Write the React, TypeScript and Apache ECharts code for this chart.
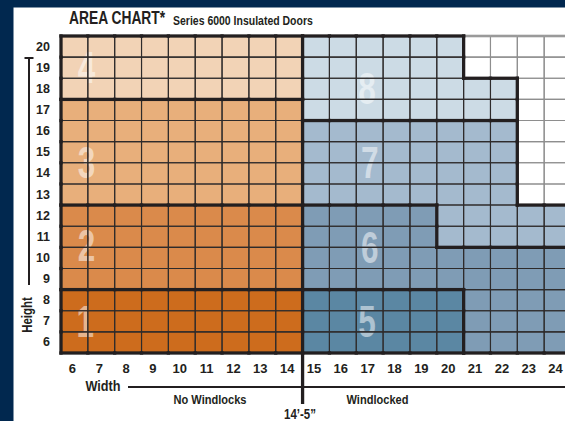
import React, { useEffect, useRef } from "react";
import * as echarts from "echarts";

// ---- data ----
const widthLabels = [6, 7, 8, 9, 10, 11, 12, 13, 14, 15, 16, 17, 18, 19, 20, 21, 22, 23, 24];
const heightLabels = [6, 7, 8, 9, 10, 11, 12, 13, 14, 15, 16, 17, 18, 19, 20];
// zone per cell, one string per height row from 20 (top) down to 6; one char per width 6..24 (0 = none)
const zoneRows = [
  "4444444448888880000", // 20
  "4444444448888880000", // 19
  "4444444448888888800", // 18
  "3333333338888888800", // 17
  "3333333337777777700", // 16
  "3333333337777777700", // 15
  "3333333337777777700", // 14
  "3333333337777777700", // 13
  "2222222226666677777", // 12
  "2222222226666677777", // 11
  "2222222226666666666", // 10
  "2222222226666666666", // 9
  "1111111115555556666", // 8
  "1111111115555556666", // 7
  "1111111115555556666", // 6
];
const zoneColors: Record<number, string> = {
  0: "#FFFFFF",
  1: "#CD6C1D",
  2: "#DA8A4B",
  3: "#E8AF7B",
  4: "#F2D3B6",
  5: "#5B87A3",
  6: "#7F9CB5",
  7: "#A4BACE",
  8: "#CCDBE5",
};
// zone number label positions [zone, width, height]
const zoneLabels = [
  [1, 6.4, 7.0],
  [2, 6.45, 10.6],
  [3, 6.45, 14.5],
  [4, 6.45, 19.0],
  [5, 16.9, 7.0],
  [6, 17.0, 10.5],
  [7, 17.0, 14.5],
  [8, 16.9, 18.0],
];
const titleMain = "AREA CHART*";
const titleSub = "Series 6000 Insulated Doors";
const leftGroup = "No Windlocks";
const rightGroup = "Windlocked";
const dividerLabel = "14\u2019-5\u201D";

const FONT = "'Liberation Sans', Arial, sans-serif";
const INK = "#231F20";
const NARROW = 0.82;

export default function App() {
  const ref = useRef<HTMLDivElement>(null);
  useEffect(() => {
    if (!ref.current) return;
    const chart = echarts.init(ref.current, null, { renderer: "svg" });

    const zoneAt = (w: number, h: number): number | null => {
      const r = 20 - h;
      const c = w - 6;
      if (r < 0 || r >= zoneRows.length || c < 0 || c >= widthLabels.length) return null;
      return Number(zoneRows[r][c]);
    };

    const cells: number[][] = [];
    heightLabels.forEach((h) => widthLabels.forEach((w) => cells.push([w, h, zoneAt(w, h) as number])));

    // boundary edges [x1,y1,x2,y2,kind] kind 1 = black, 2 = grey
    const edges: number[][] = [];
    cells.forEach(([w, h, z]) => {
      const right = zoneAt(w + 1, h);
      if (right !== null && right !== z && (right || z)) edges.push([w + 0.5, h - 0.5, w + 0.5, h + 0.5, 1]);
      const top = zoneAt(w, h + 1);
      if (top === null) edges.push([w - 0.5, h + 0.5, w + 0.5, h + 0.5, z ? 1 : 2]);
      else if (top !== z && (top || z)) edges.push([w - 0.5, h + 0.5, w + 0.5, h + 0.5, 1]);
      if (zoneAt(w - 1, h) === null) edges.push([w - 0.5, h - 0.5, w - 0.5, h + 0.5, 1]);
      if (zoneAt(w, h - 1) === null) edges.push([w - 0.5, h - 0.5, w + 0.5, h - 0.5, 1]);
    });
    edges.sort((a, b) => b[4] - a[4]);

    const rectOf = (api: any, w: number, h: number) => {
      const p1 = api.coord([w - 0.5, h + 0.5]);
      const p2 = api.coord([w + 0.5, h - 0.5]);
      return { x: p1[0], y: p1[1], width: p2[0] - p1[0], height: p2[1] - p1[1] };
    };

    const txt = (text: string, x: number, y: number, size: number, extra: any = {}) => ({
      type: "text",
      x,
      y,
      scaleX: NARROW,
      ...extra,
      style: {
        text,
        fontFamily: FONT,
        fontWeight: "bold",
        fontSize: size,
        fill: INK,
        align: extra.align || "center",
        verticalAlign: "middle",
      },
    });

    chart.setOption({
      animation: false,
      backgroundColor: "#FFFFFF",
      grid: { left: 61, top: 36, right: 0, bottom: 68 },
      xAxis: {
        type: "value",
        min: 5.5,
        max: 24.5,
        axisLine: { show: false },
        axisTick: { show: false },
        splitLine: { show: false },
        axisLabel: {
          customValues: widthLabels,
          fontFamily: FONT,
          fontWeight: "bold",
          fontSize: 13,
          color: INK,
          margin: 9,
          padding: [0, 4, 0, 0],
        },
      },
      yAxis: {
        type: "value",
        min: 5.5,
        max: 20.5,
        axisLine: { show: false },
        axisTick: { show: false },
        splitLine: { show: false },
        axisLabel: {
          customValues: heightLabels,
          fontFamily: FONT,
          fontWeight: "bold",
          fontSize: 12.5,
          color: INK,
          margin: 11,
        },
      },
      series: [
        {
          type: "custom",
          z: 1,
          encode: { x: 0, y: 1 },
          data: cells,
          clip: false,
          renderItem: (params: any, api: any) => ({
            type: "rect",
            shape: rectOf(api, api.value(0), api.value(1)),
            style: { fill: zoneColors[api.value(2)] },
          }),
        },
        {
          type: "custom",
          z: 2,
          encode: { x: 1, y: 2 },
          data: zoneLabels,
          clip: false,
          renderItem: (params: any, api: any) => {
            const p = api.coord([api.value(1), api.value(2)]);
            return {
              type: "text",
              x: p[0],
              y: p[1],
              scaleX: 0.7,
              style: {
                text: String(api.value(0)),
                fontFamily: FONT,
                fontWeight: "bold",
                fontSize: 45,
                fill: "rgba(255,255,255,0.5)",
                align: "center",
                verticalAlign: "middle",
              },
            };
          },
        },
        {
          type: "custom",
          z: 3,
          encode: { x: 0, y: 1 },
          data: cells,
          clip: false,
          renderItem: (params: any, api: any) => ({
            type: "rect",
            shape: rectOf(api, api.value(0), api.value(1)),
            style: {
              fill: "none",
              stroke: api.value(2) ? "#2E2B2B" : "#8E8E8E",
              lineWidth: 1.1,
            },
          }),
        },
        {
          type: "custom",
          z: 4,
          encode: { x: [0, 2], y: [1, 3] },
          data: edges,
          clip: false,
          renderItem: (params: any, api: any) => {
            const a = api.coord([api.value(0), api.value(1)]);
            const b = api.coord([api.value(2), api.value(3)]);
            const black = api.value(4) === 1;
            return {
              type: "line",
              shape: { x1: a[0], y1: a[1], x2: b[0], y2: b[1] },
              style: {
                stroke: black ? INK : "#9A9A9A",
                lineWidth: black ? 3.3 : 2.6,
                lineCap: black ? "square" : "butt",
              },
            };
          },
        },
        {
          type: "custom",
          z: 4,
          encode: { x: 0, y: 1 },
          data: [[14.5, 5.5]],
          clip: false,
          renderItem: (params: any, api: any) => {
            const a = api.coord([api.value(0), api.value(1)]);
            return {
              type: "line",
              shape: { x1: a[0], y1: a[1], x2: a[0], y2: a[1] + 51 },
              style: { stroke: INK, lineWidth: 3.3 },
            };
          },
        },
      ],
      graphic: [
        { type: "rect", shape: { x: 0, y: 0, width: 580, height: 7.5 }, style: { fill: "#01284F" }, z: 10 },
        { type: "rect", shape: { x: 0, y: 0, width: 13.5, height: 421 }, style: { fill: "#01284F" }, z: 10 },
        txt(titleMain, 69, 18, 17.5, { align: "left", scaleX: 0.79 }),
        txt(titleSub, 173, 20, 12.8, { align: "left" }),
        { type: "line", shape: { x1: 29, y1: 58, x2: 29, y2: 285 }, style: { stroke: INK, lineWidth: 2 } },
        { type: "line", shape: { x1: 24.5, y1: 58, x2: 33.5, y2: 58 }, style: { stroke: INK, lineWidth: 2 } },
        txt("Height", 27, 315, 14, { rotation: Math.PI / 2 }),
        txt("Width", 103, 385.5, 15.5),
        { type: "line", shape: { x1: 128, y1: 387, x2: 580, y2: 387 }, style: { stroke: INK, lineWidth: 2 } },
        txt(leftGroup, 210, 399.5, 13.5),
        txt(rightGroup, 377.5, 399.5, 13.5),
        txt(dividerLabel, 300, 414, 14),
      ],
    });
    return () => chart.dispose();
  }, []);
  return (
    <div style={{ position: "fixed", left: 0, top: 0, width: 565, height: 421, overflow: "hidden", background: "#fff" }}>
      <div ref={ref} style={{ width: 571, height: 421 }} />
    </div>
  );
}
